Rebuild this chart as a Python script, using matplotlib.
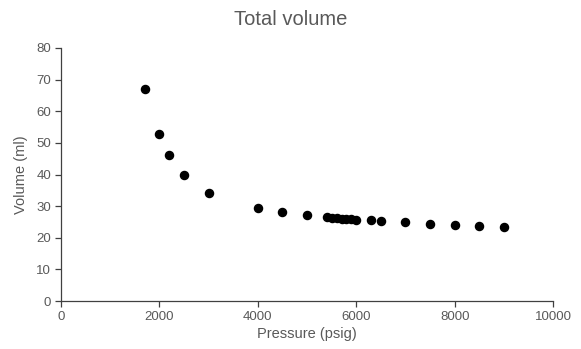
import matplotlib
matplotlib.use("Agg")
import matplotlib.pyplot as plt

pressure = [1700, 2000, 2200, 2500, 3000, 4000, 4500, 5000, 5400, 5500, 5600, 5700,
            5800, 5900, 6000, 6300, 6500, 7000, 7500, 8000, 8500, 9000]
volume = [67.0, 52.8, 46.2, 40.0, 34.2, 29.3, 28.0, 27.2, 26.6, 26.4, 26.2, 26.0,
          25.9, 25.8, 25.7, 25.5, 25.3, 24.9, 24.5, 24.1, 23.8, 23.5]
x_ticks = [0, 2000, 4000, 6000, 8000, 10000]
y_ticks = [0, 10, 20, 30, 40, 50, 60, 70, 80]

plt.rcParams['font.family'] = ['Liberation Sans', 'DejaVu Sans']
grey = '#595959'

fig = plt.figure(figsize=(5.81, 3.49), dpi=100)
ax = fig.add_axes([0.105, 0.1375, 0.847, 0.725])
ax.scatter(pressure, volume, s=34, color='black', zorder=3)
ax.set_xlim(0, 10000)
ax.set_ylim(0, 80)
ax.set_xticks(x_ticks)
ax.set_yticks(y_ticks)
for s in ['top', 'right']:
    ax.spines[s].set_visible(False)
for s in ['left', 'bottom']:
    ax.spines[s].set_color('#404040')
    ax.spines[s].set_linewidth(0.9)
ax.tick_params(axis='both', colors='#404040', labelcolor=grey, labelsize=9.5, length=4, width=0.9, direction='out', pad=3)
ax.set_xlabel('Pressure (psig)', color=grey, fontsize=10.5, labelpad=3)
ax.set_ylabel('Volume (ml)', color=grey, fontsize=10.5, labelpad=6)
fig.suptitle('Total volume', color=grey, fontsize=14.5, y=0.97)
fig.savefig('out.png', dpi=100)
